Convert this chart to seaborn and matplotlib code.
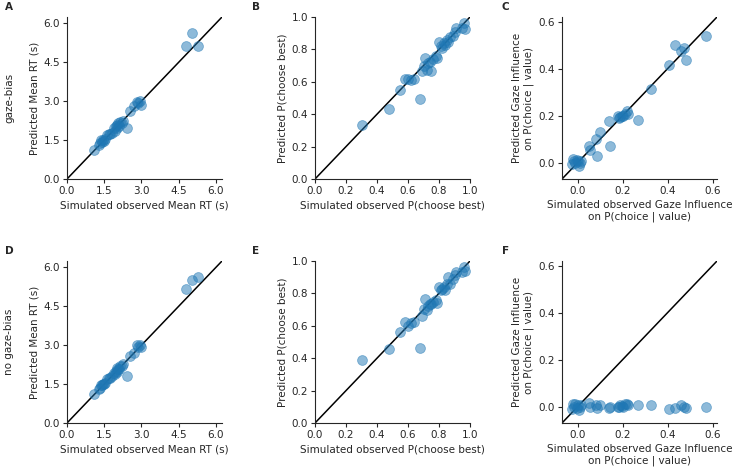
import numpy as np
import pandas as pd
import matplotlib
matplotlib.use("Agg")
import matplotlib.pyplot as plt
import seaborn as sns

sns.set_style("ticks")
plt.rcParams['font.family'] = ['DejaVu Sans']

# ---- data ----
obs_rt = [1.10, 1.28, 1.32, 1.38, 1.42, 1.45, 1.50, 1.55, 1.62, 1.68, 1.72, 1.80, 1.88, 1.92,
          1.96, 2.00, 2.02, 2.06, 2.10, 2.15, 2.20, 2.25, 2.40, 2.55, 2.70, 2.82, 2.88, 2.95,
          3.00, 4.80, 5.05, 5.30]
pred_rt_gaze = [1.10, 1.30, 1.38, 1.50, 1.42, 1.52, 1.48, 1.55, 1.68, 1.75, 1.72, 1.78, 1.95,
                1.85, 2.05, 2.10, 1.98, 2.15, 2.05, 2.20, 2.15, 2.25, 1.95, 2.62, 2.80, 2.98,
                2.92, 3.00, 2.85, 5.15, 5.65, 5.15]
pred_rt_nogaze = [1.10, 1.32, 1.35, 1.48, 1.45, 1.50, 1.52, 1.55, 1.70, 1.72, 1.75, 1.80, 1.92,
                  1.88, 2.02, 2.12, 1.95, 2.10, 2.08, 2.18, 2.20, 2.28, 1.82, 2.60, 2.70, 3.00,
                  2.95, 3.00, 2.95, 5.18, 5.52, 5.65]

obs_pb = [0.30, 0.48, 0.55, 0.58, 0.60, 0.62, 0.64, 0.68, 0.69, 0.70, 0.71, 0.72, 0.73, 0.74,
          0.75, 0.76, 0.78, 0.79, 0.80, 0.81, 0.82, 0.83, 0.84, 0.85, 0.86, 0.87, 0.89, 0.90,
          0.91, 0.95, 0.96, 0.965]
pred_pb_gaze = [0.335, 0.43, 0.55, 0.62, 0.62, 0.61, 0.615, 0.495, 0.665, 0.695, 0.75, 0.67,
                0.715, 0.72, 0.665, 0.74, 0.76, 0.75, 0.845, 0.82, 0.81, 0.84, 0.83, 0.855,
                0.845, 0.875, 0.88, 0.91, 0.93, 0.93, 0.965, 0.925]
pred_pb_nogaze = [0.39, 0.455, 0.56, 0.625, 0.60, 0.615, 0.625, 0.46, 0.66, 0.705, 0.765, 0.70,
                  0.725, 0.735, 0.735, 0.745, 0.76, 0.74, 0.84, 0.82, 0.83, 0.84, 0.82, 0.855,
                  0.90, 0.86, 0.89, 0.915, 0.93, 0.935, 0.965, 0.94]

obs_gi = [-0.025, -0.02, -0.015, -0.01, -0.005, 0.0, 0.005, 0.01, 0.015, 0.05, 0.055, 0.08,
          0.085, 0.10, 0.14, 0.145, 0.18, 0.185, 0.19, 0.195, 0.20, 0.21, 0.22, 0.225, 0.27,
          0.325, 0.405, 0.435, 0.46, 0.475, 0.48, 0.57]
pred_gi_gaze = [-0.005, 0.015, 0.005, 0.0, 0.01, 0.005, -0.015, 0.0, 0.005, 0.07, 0.055, 0.10,
                0.03, 0.13, 0.175, 0.07, 0.20, 0.19, 0.195, 0.20, 0.20, 0.205, 0.22, 0.205,
                0.18, 0.315, 0.415, 0.50, 0.475, 0.49, 0.435, 0.54]
pred_gi_nogaze = [-0.01, 0.01, 0.0, 0.012, -0.005, 0.005, -0.015, 0.0, 0.008, 0.015, 0.0, 0.005,
                  -0.005, 0.005, -0.005, 0.0, -0.002, 0.0, 0.005, 0.002, 0.0, 0.01, 0.012, 0.008,
                  0.005, 0.005, -0.01, -0.005, 0.005, 0.0, -0.005, 0.0]

row_labels = ["gaze-bias", "no gaze-bias"]
panel_letters = ["A", "B", "C", "D", "E", "F"]
xlabels = ["Simulated observed Mean RT (s)", "Simulated observed P(choose best)",
           "Simulated observed Gaze Influence\non P(choice | value)"]
ylabels = ["Predicted Mean RT (s)", "Predicted P(choose best)",
           "Predicted Gaze Influence\non P(choice | value)"]

obs = [obs_rt, obs_pb, obs_gi]
preds = [[pred_rt_gaze, pred_pb_gaze, pred_gi_gaze],
         [pred_rt_nogaze, pred_pb_nogaze, pred_gi_nogaze]]
lims = [(0, 6.25), (0, 1.0), (-0.07, 0.62)]
ticks = [[0, 1.5, 3.0, 4.5, 6.0], [0, 0.2, 0.4, 0.6, 0.8, 1.0], [0.0, 0.2, 0.4, 0.6]]

W, H = 733, 473
fig = plt.figure(figsize=(W / 100, H / 100), dpi=100)

lefts = [67, 315, 562]
tops = [17, 261]
aw, ah = 155, 162
FS = 7.5

for r in range(2):
    for c in range(3):
        ax = fig.add_axes([lefts[c] / W, 1 - (tops[r] + ah) / H, aw / W, ah / H])
        df = pd.DataFrame({"obs": obs[c], "pred": preds[r][c]})
        lo, hi = lims[c]
        ax.plot([lo, hi], [lo, hi], color="black", lw=1.1, zorder=1)
        sns.scatterplot(data=df, x="obs", y="pred", ax=ax, color="C0", alpha=0.5,
                        s=50, edgecolor="C0", linewidth=0.6, zorder=2)
        ax.set_xlim(lo, hi)
        ax.set_ylim(lo, hi)
        ax.set_xticks(ticks[c])
        ax.set_yticks(ticks[c])
        ax.xaxis.set_major_formatter(matplotlib.ticker.FormatStrFormatter("%.1f"))
        ax.yaxis.set_major_formatter(matplotlib.ticker.FormatStrFormatter("%.1f"))
        ax.tick_params(labelsize=FS, length=3, width=0.8, pad=2)
        ax.set_xlabel(xlabels[c], fontsize=FS, labelpad=3)
        ax.set_ylabel(ylabels[c], fontsize=FS, labelpad=3)
        for sp in ["left", "bottom"]:
            ax.spines[sp].set_linewidth(0.8)
        sns.despine(ax=ax)

letter_x = [5, 252, 502]
letter_y = [2, 246]
k = 0
for r in range(2):
    for c in range(3):
        fig.text(letter_x[c] / W, 1 - letter_y[r] / H, panel_letters[k], fontsize=FS,
                 fontweight="bold", va="top", ha="left")
        k += 1

for r in range(2):
    fig.text(9 / W, 1 - (tops[r] + ah / 2) / H, row_labels[r], rotation=90, fontsize=FS,
             va="center", ha="center")

fig.savefig("out.png", dpi=100)
